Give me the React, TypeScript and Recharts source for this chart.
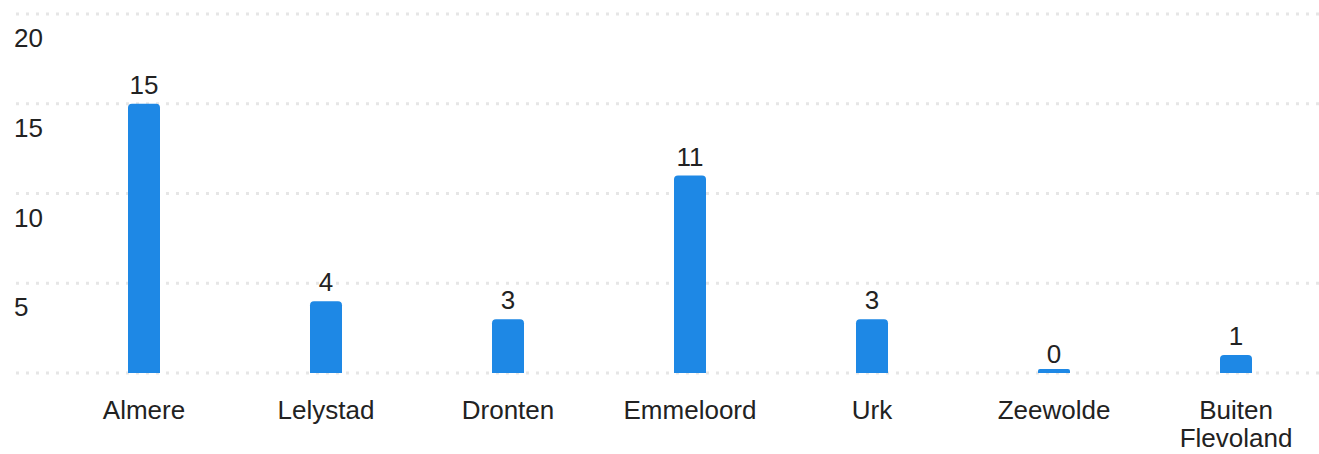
import React from 'react';
import { BarChart, Bar, XAxis, YAxis, CartesianGrid, LabelList } from 'recharts';

const categories = ['Almere', 'Lelystad', 'Dronten', 'Emmeloord', 'Urk', 'Zeewolde', 'Buiten Flevoland'];
const values = [15, 4, 3, 11, 3, 0, 1];
const yTicks = [0, 5, 10, 15, 20];

const data = categories.map((name, i) => ({ name, value: values[i] }));

const FONT = '"Liberation Sans", Arial, sans-serif';
const TEXT_COLOR = '#222222';
const FONT_SIZE = 26;
const LINE_HEIGHT = 28;

const XTick = (props: any) => {
  const { x, y, payload } = props;
  const label: string = String(payload.value);
  const lines = label.length > 10 ? label.split(' ') : [label];
  return (
    <text x={x} y={y} textAnchor="middle" fontSize={FONT_SIZE} fill={TEXT_COLOR} fontFamily={FONT}>
      {lines.map((ln, i) => (
        <tspan key={i} x={x} dy={i === 0 ? '0.71em' : LINE_HEIGHT}>
          {ln}
        </tspan>
      ))}
    </text>
  );
};

const YTick = (props: any) => {
  const { y, payload } = props;
  if (payload.value === 0) return <g />;
  return (
    <text x={14} y={y + 33} textAnchor="start" fontSize={FONT_SIZE} fill={TEXT_COLOR} fontFamily={FONT}>
      {payload.value}
    </text>
  );
};

const BarLabel = (props: any) => {
  const { x, y, width, height, value } = props;
  const base = value === 0 ? y + height : y;
  return (
    <text x={x + width / 2} y={base - 10} textAnchor="middle" fontSize={FONT_SIZE} fill={TEXT_COLOR} fontFamily={FONT}>
      {value}
    </text>
  );
};

export default function App() {
  return (
    <div style={{ position: 'absolute', left: 0, top: 0, width: 1319, height: 454, overflow: 'hidden', background: '#fff' }}>
      <BarChart width={1319} height={454} data={data} margin={{ top: 14, right: 0, bottom: 0, left: 15 }}>
        <CartesianGrid vertical={false} stroke="#e6e6e6" strokeWidth={3} strokeDasharray="3 7" />
        <XAxis
          dataKey="name"
          axisLine={false}
          tickLine={false}
          height={81}
          tickMargin={22}
          interval={0}
          padding={{ left: 37, right: -8 }}
          tick={<XTick />}
        />
        <YAxis
          width={1}
          domain={[0, 20]}
          ticks={yTicks}
          axisLine={false}
          tickLine={false}
          tick={<YTick />}
        />
        <Bar dataKey="value" fill="#1e88e5" barSize={32} radius={[4, 4, 0, 0]} minPointSize={4} isAnimationActive={false}>
          <LabelList dataKey="value" content={<BarLabel />} />
        </Bar>
      </BarChart>
    </div>
  );
}
